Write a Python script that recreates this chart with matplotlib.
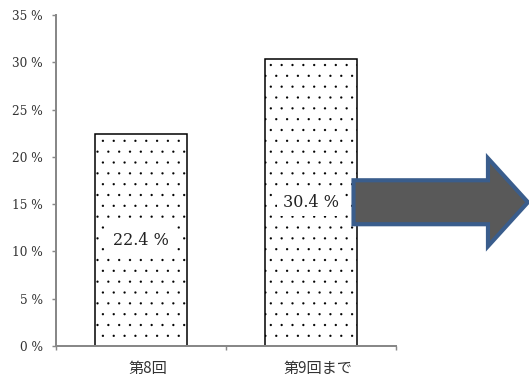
import matplotlib
matplotlib.use('Agg')
import matplotlib.pyplot as plt
from matplotlib.patches import FancyArrow
from matplotlib.transforms import ScaledTranslation

# データ
kaisu = ['第8回', '第9回まで']
wariai = [22.4, 30.4]
y_ticks = [0, 5, 10, 15, 20, 25, 30, 35]

DPI = 130
plt.rcParams['hatch.linewidth'] = 0.05
plt.rcParams['hatch.color'] = '#3a3a3a'

fig = plt.figure(figsize=(529 / DPI, 376 / DPI), dpi=DPI)
ax = fig.add_axes([0.1059, 0.0798, 0.6427, 0.8803])

x = list(range(len(kaisu)))
bar_w = 0.54
ax.bar(x, wariai, width=bar_w, color='white', edgecolor='black',
       linewidth=0.85, hatch='..', zorder=2)

# 棒の中央に値ラベル
for xi, v in zip(x, wariai):
    ax.text(xi, v / 2, f'{v:.1f} %', ha='center', va='center',
            fontsize=8.9, family='DejaVu Serif', color='#222222', zorder=3,
            bbox=dict(facecolor='white', edgecolor='none', boxstyle='square,pad=0.35'))

# 右向きの矢印
x0 = x[-1] + bar_w / 2 - 0.02
arrow = FancyArrow(x0, wariai[-1] / 2, 2.276 - x0, 0, width=4.65, head_width=9.3,
                   head_length=0.235, length_includes_head=True,
                   facecolor='#595959', edgecolor='#3A5D8C', linewidth=2.3,
                   joinstyle='miter', clip_on=False, zorder=4)
ax.add_patch(arrow)

ax.set_xlim(-0.5, len(kaisu) - 0.5)
ax.set_ylim(0, 35)

ax.set_yticks(y_ticks)
ax.set_yticklabels([f'{t} %' for t in y_ticks], family='DejaVu Serif', fontsize=6.7,
                   color='#333333')
ax.tick_params(axis='y', direction='out', length=2.2, width=0.8, color='#888888', pad=5)

ax.set_xticks(x)
ax.set_xticklabels(kaisu, family=['Noto Sans CJK JP', 'DejaVu Sans'], fontsize=8.4,
                   color='#333333')
ax.set_xticks([i - 0.5 for i in range(len(kaisu) + 1)], minor=True)
ax.tick_params(axis='x', which='major', length=0, pad=7.5)
ax.tick_params(axis='x', which='minor', direction='out', length=2.2, width=0.8,
               color='#888888')
for lab in ax.get_xticklabels():
    lab.set_transform(lab.get_transform() + ScaledTranslation(7 / DPI, 0, fig.dpi_scale_trans))

for s in ['top', 'right']:
    ax.spines[s].set_visible(False)
for s in ['left', 'bottom']:
    ax.spines[s].set_color('#888888')
    ax.spines[s].set_linewidth(1.1)

fig.savefig('out.png', dpi=DPI)
